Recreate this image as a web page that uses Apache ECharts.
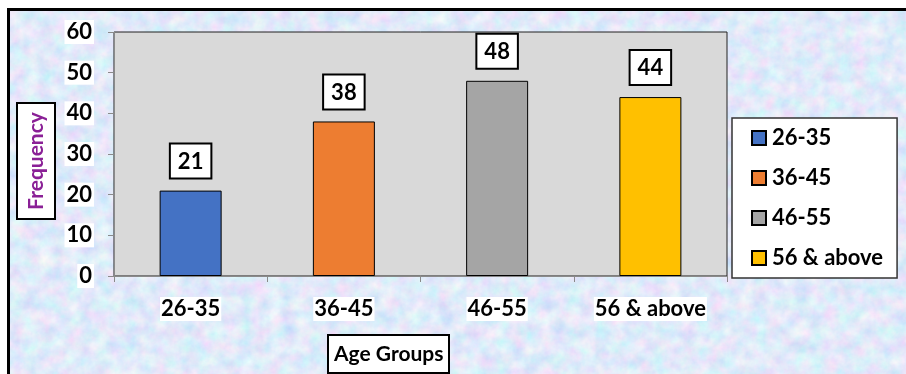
<!DOCTYPE html>
<html>
<head>
<meta charset="utf-8">
<script src="https://cdn.jsdelivr.net/npm/echarts@6/dist/echarts.min.js"></script>
<style>
  html, body { margin: 0; padding: 0; background: #ffffff; }
  #frame {
    position: absolute; left: 7px; top: 8px; width: 899px; height: 366px;
    border-left: 3px solid #000; border-top: 3px solid #000;
    box-sizing: border-box;
    background-color: #bfd2f2;
    background-image: url("data:image/svg+xml;utf8,<svg xmlns='http://www.w3.org/2000/svg' width='906' height='374'><filter id='m'><feTurbulence type='fractalNoise' baseFrequency='0.07' numOctaves='4' seed='11'/><feColorMatrix values='0.5 0 0 0 0.5  0 0.35 0 0 0.65  0 0 0.1 0 0.9  0 0 0 0 1'/></filter><rect width='100%' height='100%' filter='url(%23m)'/></svg>");
  }
  #chart { position: absolute; left: 0; top: 0; width: 906px; height: 374px; }
</style>
</head>
<body>
<div id="frame"></div>
<div id="chart"></div>
<script>
// Age group frequencies
const categories = ['26-35', '36-45', '46-55', '56 & above'];
const frequencies = [21, 38, 48, 44];
const barColors = ['#4472C4', '#ED7D31', '#A5A5A5', '#FFC000'];
const yTicks = { min: 0, max: 60, interval: 10 };

const FONT = 'Lato, "Open Sans", sans-serif';

// One series per age group so each gets its own legend entry; all share one slot.
const series = categories.map((name, i) => ({
  name: name,
  type: 'bar',
  barWidth: 62,
  barGap: '-100%',
  data: categories.map((_, j) => (j === i ? frequencies[i] : '-')),
  itemStyle: { color: barColors[i], borderColor: '#000', borderWidth: 1 },
  label: {
    show: true,
    position: 'top',
    distance: 13,
    color: '#000',
    fontFamily: FONT,
    fontWeight: 'bold',
    fontSize: 22,
    lineHeight: 22,
    backgroundColor: '#fff',
    borderColor: '#000',
    borderWidth: 2,
    padding: [6, 7, 5, 7]
  }
}));

const chart = echarts.init(document.getElementById('chart'), null, { renderer: 'canvas' });
chart.setOption({
  backgroundColor: 'transparent',
  animation: false,
  title: {
    text: 'Age Groups',
    left: 328,
    top: 335,
    backgroundColor: '#fff',
    borderColor: '#000',
    borderWidth: 2,
    padding: [8, 6, 8, 6],
    textStyle: { fontFamily: FONT, fontWeight: 'bold', fontSize: 21, color: '#000', lineHeight: 22 }
  },
  // Vertical axis title in its own framed box
  graphic: [{
    type: 'text',
    x: 36,
    y: 161,
    rotation: Math.PI / 2,
    style: {
      text: 'Frequency',
      align: 'center',
      verticalAlign: 'middle',
      fill: '#8a2096',
      font: 'bold 21px ' + FONT,
      lineHeight: 22,
      backgroundColor: '#fff',
      borderColor: '#000',
      borderWidth: 2,
      padding: [7, 8, 7, 8]
    }
  }],
  legend: {
    orient: 'vertical',
    left: 732,
    top: 118,
    width: 170,
    backgroundColor: '#fff',
    borderColor: '#333',
    borderWidth: 1.5,
    padding: [9, 14, 9, 19],
    itemGap: 18,
    itemWidth: 14,
    itemHeight: 14,
    icon: 'rect',
    data: categories,
    textStyle: { fontFamily: FONT, fontWeight: 'bold', fontSize: 22, color: '#000', lineHeight: 22, padding: [0, 0, 0, 1] }
  },
  grid: {
    left: 114,
    right: 179,
    top: 32,
    bottom: 98,
    outerBoundsMode: 'none',
    containLabel: false,
    show: true,
    backgroundColor: '#d9d9d9',
    borderColor: '#222',
    borderWidth: 1
  },
  xAxis: {
    type: 'category',
    data: categories,
    axisLine: { show: true, lineStyle: { color: '#8a8a8a', width: 1 } },
    axisTick: { show: true, alignWithLabel: false, length: 6, lineStyle: { color: '#8a8a8a' } },
    axisLabel: {
      margin: 21,
      color: '#000',
      fontFamily: FONT,
      fontWeight: 'bold',
      fontSize: 22,
      lineHeight: 22,
      backgroundColor: '#fff',
      padding: [1, 1]
    }
  },
  yAxis: {
    type: 'value',
    min: yTicks.min,
    max: yTicks.max,
    interval: yTicks.interval,
    splitLine: { show: false },
    axisLine: { show: true, lineStyle: { color: '#8a8a8a', width: 1 } },
    axisTick: { show: true, length: 6, lineStyle: { color: '#8a8a8a' } },
    axisLabel: {
      margin: 20,
      color: '#000',
      fontFamily: FONT,
      fontWeight: 'bold',
      fontSize: 22,
      lineHeight: 22,
      backgroundColor: '#fff',
      padding: [1, 2]
    }
  },
  series: series
});
</script>
</body>
</html>
